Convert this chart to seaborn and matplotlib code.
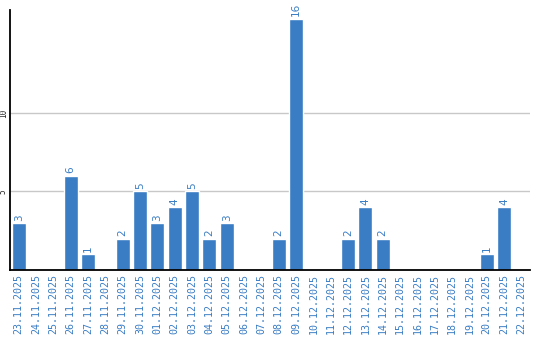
import matplotlib
matplotlib.use("Agg")
import matplotlib.pyplot as plt
import seaborn as sns
import pandas as pd

dates = ["23.11.2025", "24.11.2025", "25.11.2025", "26.11.2025", "27.11.2025",
         "28.11.2025", "29.11.2025", "30.11.2025", "01.12.2025", "02.12.2025",
         "03.12.2025", "04.12.2025", "05.12.2025", "06.12.2025", "07.12.2025",
         "08.12.2025", "09.12.2025", "10.12.2025", "11.12.2025", "12.12.2025",
         "13.12.2025", "14.12.2025", "15.12.2025", "16.12.2025", "17.12.2025",
         "18.12.2025", "19.12.2025", "20.12.2025", "21.12.2025", "22.12.2025"]
counts = [3, 0, 0, 6, 1, 0, 2, 5, 3, 4, 5, 2, 3, 0, 0, 2, 16, 0, 0, 2, 4, 2,
          0, 0, 0, 0, 0, 1, 4, 0]
yticks = [5, 10]

sns.set_style("white")
BLUE = "#3a7dc4"

df = pd.DataFrame({"date": dates, "count": counts})
fig = plt.figure(figsize=(5.4, 3.4), dpi=100)
ax = fig.add_axes([10 / 540, 1 - 270 / 340, 520 / 540, 260 / 340])
sns.barplot(data=df, x="date", y="count", color=BLUE, saturation=1, width=0.8, ax=ax)

for i, v in enumerate(counts):
    if v > 0:
        ax.text(i, v + 0.15, str(v), rotation=90, ha="center", va="bottom",
                color=BLUE, fontsize=7.5, family="DejaVu Sans")

ax.set_ylim(0, 16.56)
ax.set_xlim(-0.5, len(dates) - 0.5)
ax.set_yticks(yticks)
ax.set_yticklabels([str(t) for t in yticks], rotation=90, va="center",
                   fontsize=5.5, family="DejaVu Sans Mono")
ax.yaxis.grid(True, color="#c8c8c8", linewidth=1)
ax.set_axisbelow(True)
ax.set_xticks(range(len(dates)))
ax.set_xticklabels(dates, rotation=90, color=BLUE, fontsize=7.2,
                   family="DejaVu Sans Mono")
ax.tick_params(axis="x", length=0, pad=3)
ax.tick_params(axis="y", length=0, pad=1.5)
ax.set_xlabel("")
ax.set_ylabel("")
for s in ["top", "right"]:
    ax.spines[s].set_visible(False)
for s in ["left", "bottom"]:
    ax.spines[s].set_color("black")
    ax.spines[s].set_linewidth(1.3)

fig.savefig("out.png", dpi=100)
